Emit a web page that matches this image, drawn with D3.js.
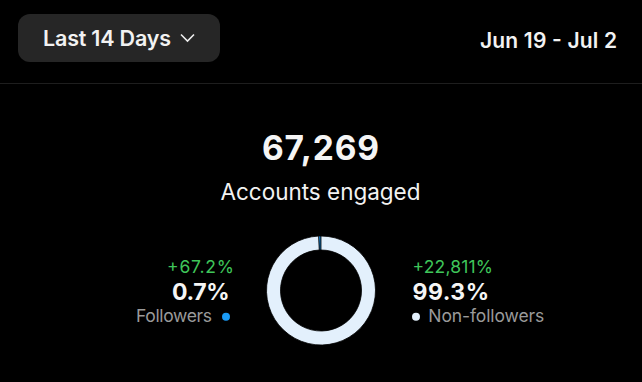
<!DOCTYPE html>
<html><head><meta charset="utf-8">
<script src="https://cdn.jsdelivr.net/npm/d3@7"></script>
<style>
html,body{margin:0;padding:0;background:#000;}
svg{display:block;font-family:Inter,"Noto Sans",sans-serif;}
</style></head>
<body>
<svg id="c" width="642" height="382"></svg>
<script>
const rangeLabel = "Last 14 Days";
const dateLabel = "Jun 19 - Jul 2";
const totalValue = 67269;
const totalLabel = "Accounts engaged";
const segments = ["Followers", "Non-followers"];
const shares = [0.7, 99.3];
const changes = ["+67.2%", "+22,811%"];
const segColors = ["#1a9af5", "#e3f0fc"];

const svg = d3.select("#c");
svg.append("rect").attr("width",642).attr("height",382).attr("fill","#000");

function txt(str, x, y, o) {
  const t = svg.append("text").attr("x",x).attr("y",y)
    .attr("text-anchor",o.anchor||"start").attr("fill",o.fill)
    .attr("font-size",o.size).attr("font-weight",o.weight||400).text(str);
  if (o.len) t.attr("textLength",o.len).attr("lengthAdjust","spacing");
  return t;
}

// header button
svg.append("rect").attr("x",18).attr("y",14).attr("width",202).attr("height",48)
  .attr("rx",12).attr("fill","#262626");
txt(rangeLabel, 43, 46, {fill:"#f2f2f2", size:21.5, weight:600, len:128});
svg.append("path").attr("d","M181,34.5 L187.5,41 L194,34.5").attr("fill","none")
  .attr("stroke","#eee").attr("stroke-width",1.6);
txt(dateLabel, 617, 48, {anchor:"end", fill:"#f2f2f2", size:21, weight:600, len:137});
svg.append("line").attr("x1",0).attr("x2",642).attr("y1",83.5).attr("y2",83.5)
  .attr("stroke","#1e1e1e").attr("stroke-width",1);

// totals
txt(d3.format(",")(totalValue), 320.5, 160, {anchor:"middle", fill:"#f5f5f5", size:33.5, weight:700, len:117});
txt(totalLabel, 320.5, 200, {anchor:"middle", fill:"#f2f2f2", size:22.5, len:200});

// donut
const cx = 321, cy = 290.5;
const data = segments.map((s,i)=>({name:s, value:shares[i], color:segColors[i]}));
const offset = -2*Math.PI*shares[0]/100;
const pie = d3.pie().value(d=>d.value).sort(null)
  .startAngle(offset).endAngle(offset + 2*Math.PI);
const arc = d3.arc().innerRadius(40.5).outerRadius(54.5);
const g = svg.append("g").attr("transform",`translate(${cx},${cy})`);
g.selectAll("path").data(pie(data)).join("path")
  .attr("d",arc).attr("fill",d=>d.data.color)
  .attr("stroke","#000").attr("stroke-width",0.8);

// side labels
const green = "#3fc55a";
txt(changes[0], 234, 272.5, {anchor:"end", fill:green, size:17.5, len:67});
txt(d3.format(".1f")(shares[0])+"%", 229.5, 299.5, {anchor:"end", fill:"#f5f5f5", size:23, weight:700, len:57.5});
txt(segments[0], 136, 322, {fill:"#9a9a9a", size:17.5, len:76});
svg.append("circle").attr("cx",226).attr("cy",316.7).attr("r",4).attr("fill",segColors[0]);

txt(changes[1], 412.5, 272.5, {fill:green, size:17.5, len:80.5});
txt(d3.format(".1f")(shares[1])+"%", 412.5, 299.5, {fill:"#f5f5f5", size:23, weight:700, len:76.5});
svg.append("circle").attr("cx",416).attr("cy",316.7).attr("r",4).attr("fill",segColors[1]);
txt(segments[1], 428.3, 322, {fill:"#9a9a9a", size:17.5, len:116});
</script>
</body></html>
